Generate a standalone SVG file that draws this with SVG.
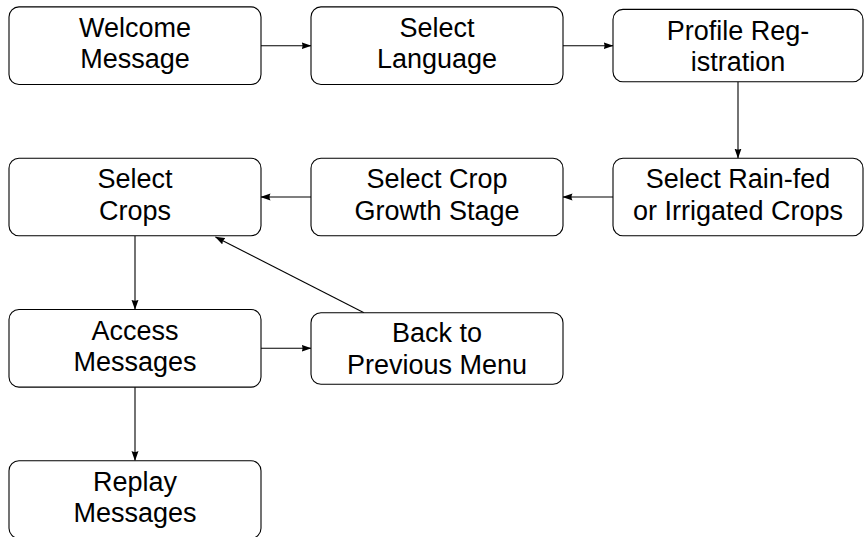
<svg xmlns="http://www.w3.org/2000/svg" width="864" height="537" viewBox="0 0 864 537">
<style>
.box{fill:#fff;stroke:#000;stroke-width:1.1}
.t{font-family:"Liberation Sans",Arial,sans-serif;font-size:27px;fill:#000;text-anchor:middle}
.c{fill:none;stroke:#000;stroke-width:1.1}
</style>
<defs>
<marker id="ah" viewBox="0 0 10 8" refX="9.5" refY="4" markerWidth="10" markerHeight="8" markerUnits="userSpaceOnUse" orient="auto">
<path d="M0,0.5 L10,4 L0,7.5 Q2,4 0,0.5 Z" fill="#000"/>
</marker>
</defs>
<rect width="864" height="537" fill="#fff"/>
<g id="connectors">
<line class="c" x1="261" y1="45.7" x2="311" y2="45.7" marker-end="url(#ah)"/>
<line class="c" x1="563" y1="45.7" x2="613" y2="45.7" marker-end="url(#ah)"/>
<line class="c" x1="738" y1="81.7" x2="738" y2="158" marker-end="url(#ah)"/>
<line class="c" x1="613" y1="197" x2="563" y2="197" marker-end="url(#ah)"/>
<line class="c" x1="311" y1="197" x2="261" y2="197" marker-end="url(#ah)"/>
<line class="c" x1="135" y1="236" x2="135" y2="309.3" marker-end="url(#ah)"/>
<line class="c" x1="261" y1="348.3" x2="311" y2="348.3" marker-end="url(#ah)"/>
<line class="c" x1="364" y1="312.7" x2="215.5" y2="237" marker-end="url(#ah)"/>
<line class="c" x1="135" y1="387.3" x2="135" y2="460.5" marker-end="url(#ah)"/>
</g>
<g id="welcome">
<rect class="box" x="9" y="6.9" width="252" height="77.6" rx="10"/>
<text class="t" x="135" y="37">Welcome</text>
<text class="t" x="135" y="68.3">Message</text>
</g>
<g id="language">
<rect class="box" x="311" y="6.9" width="252" height="77.6" rx="10"/>
<text class="t" x="437" y="37">Select</text>
<text class="t" x="437" y="68.3">Language</text>
</g>
<g id="profile">
<rect class="box" x="613" y="9.4" width="250" height="72.3" rx="10"/>
<text class="t" x="738" y="39.6">Profile Reg-</text>
<text class="t" x="738" y="71">istration</text>
</g>
<g id="rainfed">
<rect class="box" x="613" y="158.2" width="250" height="77.6" rx="10"/>
<text class="t" x="738" y="188.3">Select Rain-fed</text>
<text class="t" x="738" y="219.8">or Irrigated Crops</text>
</g>
<g id="growth">
<rect class="box" x="311" y="158.2" width="252" height="77.6" rx="10"/>
<text class="t" x="437" y="188.3">Select Crop</text>
<text class="t" x="437" y="219.8">Growth Stage</text>
</g>
<g id="crops">
<rect class="box" x="9" y="158.2" width="252" height="77.6" rx="10"/>
<text class="t" x="135" y="188.3">Select</text>
<text class="t" x="135" y="219.8">Crops</text>
</g>
<g id="access">
<rect class="box" x="9" y="309.5" width="252" height="77.6" rx="10"/>
<text class="t" x="135" y="339.6">Access</text>
<text class="t" x="135" y="371">Messages</text>
</g>
<g id="back">
<rect class="box" x="311" y="312.7" width="252" height="71.6" rx="10"/>
<text class="t" x="437" y="342.4">Back to</text>
<text class="t" x="437" y="373.6">Previous Menu</text>
</g>
<g id="replay">
<rect class="box" x="9" y="460.7" width="252" height="77.6" rx="10"/>
<text class="t" x="135" y="490.8">Replay</text>
<text class="t" x="135" y="522.1">Messages</text>
</g>
</svg>
